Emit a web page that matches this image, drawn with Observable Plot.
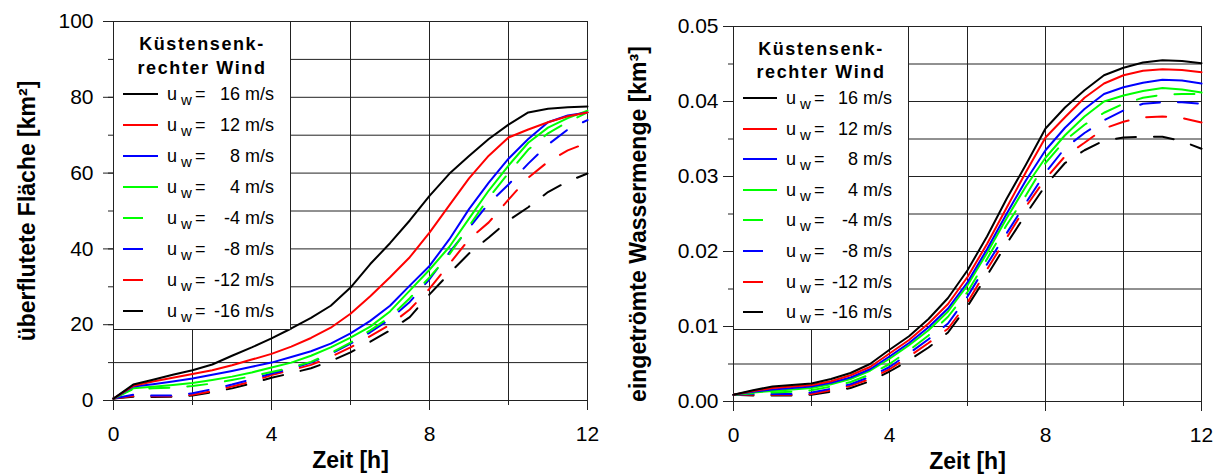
<!DOCTYPE html>
<html>
<head>
<meta charset="utf-8">
<script src="https://cdn.jsdelivr.net/npm/d3@7"></script>
<script src="https://cdn.jsdelivr.net/npm/@observablehq/plot@0.6"></script>
<style>
  body { margin: 0; background: #fff; }
  #wrap { position: relative; width: 1223px; height: 474px; overflow: hidden; background: #fff;
          font-family: "Liberation Sans", Arial, sans-serif; color: #000; }
  .panel { position: absolute; top: 0; }
  .legend { position: absolute; background: #fff; border: 1px solid #222; box-sizing: border-box; }
  .ltitle { position: absolute; left: 0; width: 100%; text-align: center; font-weight: bold;
            font-size: 18px; letter-spacing: 1.6px; line-height: 20px; }
  .lrow { position: absolute; left: 0; width: 100%; height: 22px; font-size: 18px; line-height: 22px; }
  .lrow svg { position: absolute; top: 0; }
  .lrow span { position: absolute; top: 0; white-space: pre; }
  .lrow .sub { font-size: 15px; top: 6px; }
</style>
</head>
<body>
<div id="wrap"></div>
<script>
// ---------- data ----------
const hours = [0, 0.5, 1, 1.5, 2, 2.5, 3, 3.5, 4, 4.5, 5, 5.5, 6, 6.5, 7, 7.5, 8, 8.5, 9, 9.5, 10, 10.5, 11, 11.5, 12];
const winds = [16, 12, 8, 4, -4, -8, -12, -16];
const windLabels = ["16 m/s", "12 m/s", "8 m/s", "4 m/s", "-4 m/s", "-8 m/s", "-12 m/s", "-16 m/s"];
const windColors = ["#000000", "#ff0000", "#0000ff", "#00ff00", "#00ff00", "#0000ff", "#ff0000", "#000000"];
const windDashed = [false, false, false, false, true, true, true, true];

// überflutete Fläche [km²]
const area16  = [0.5, 4.2, 5.5, 6.8, 8.0, 9.5, 11.8, 14.0, 16.4, 19.0, 21.8, 25.0, 29.8, 36.0, 41.5, 47.5, 54.0, 59.8, 64.5, 69.0, 72.8, 76.0, 77.0, 77.4, 77.6];
const area12  = [0.5, 3.9, 5.0, 6.0, 7.0, 8.0, 9.3, 10.8, 12.3, 14.2, 16.5, 19.2, 22.9, 27.5, 32.5, 37.8, 44.3, 51.5, 58.6, 64.6, 69.4, 71.5, 73.4, 75.0, 76.0];
const area8   = [0.5, 3.7, 4.3, 5.0, 5.8, 6.8, 7.8, 8.9, 10.0, 11.5, 13.0, 15.0, 17.7, 21.0, 25.0, 30.3, 35.5, 42.5, 50.5, 57.5, 63.8, 69.0, 73.4, 75.2, 76.0];
const area4   = [0.5, 3.2, 3.6, 4.1, 4.6, 5.4, 6.3, 7.4, 8.7, 10.0, 11.8, 14.0, 16.6, 19.5, 23.5, 29.0, 34.5, 40.5, 48.0, 55.4, 62.0, 68.0, 72.0, 74.5, 76.5];
const areaM4  = [0.5, 3.0, 3.2, 3.4, 3.8, 4.5, 5.4, 6.4, 7.5, 8.7, 10.2, 12.5, 15.3, 18.5, 22.0, 27.0, 32.5, 38.5, 46.0, 53.5, 60.0, 66.2, 70.5, 73.5, 76.0];
const areaM8  = [0.5, 1.5, 1.3, 1.3, 1.9, 3.0, 4.2, 5.6, 7.1, 8.4, 10.0, 12.3, 15.0, 18.0, 21.5, 26.0, 32.0, 39.0, 45.5, 52.0, 57.0, 62.5, 67.5, 71.5, 74.0];
const areaM12 = [0.5, 1.2, 1.1, 1.1, 1.5, 2.5, 3.7, 5.0, 6.7, 8.0, 9.4, 11.5, 14.0, 17.0, 20.0, 24.0, 29.5, 36.0, 42.5, 47.0, 53.0, 58.8, 63.0, 66.0, 68.0];
const areaM16 = [0.5, 1.0, 0.9, 1.0, 1.3, 2.2, 3.2, 4.5, 6.0, 7.2, 8.5, 10.4, 12.7, 15.5, 18.5, 22.0, 28.0, 33.5, 38.8, 43.0, 47.5, 51.0, 55.0, 57.8, 59.9];

// eingeströmte Wassermenge [km³]
const vol16  = [0.0009, 0.0015, 0.0020, 0.0022, 0.0024, 0.0030, 0.0038, 0.0050, 0.0069, 0.0087, 0.0110, 0.0138, 0.0175, 0.0220, 0.0270, 0.0316, 0.0364, 0.0392, 0.0415, 0.0435, 0.0445, 0.0452, 0.0455, 0.0454, 0.0451];
const vol12  = [0.0009, 0.0014, 0.0018, 0.0020, 0.0022, 0.0027, 0.0035, 0.0046, 0.0064, 0.0082, 0.0104, 0.0130, 0.0166, 0.0210, 0.0258, 0.0306, 0.0352, 0.0379, 0.0405, 0.0424, 0.0435, 0.0441, 0.0443, 0.0442, 0.0439];
const vol8   = [0.0009, 0.0013, 0.0016, 0.0018, 0.0020, 0.0025, 0.0032, 0.0043, 0.0060, 0.0078, 0.0099, 0.0124, 0.0159, 0.0203, 0.0250, 0.0295, 0.0335, 0.0365, 0.0390, 0.0410, 0.0419, 0.0425, 0.0429, 0.0428, 0.0424];
const vol4   = [0.0009, 0.0012, 0.0014, 0.0016, 0.0018, 0.0023, 0.0030, 0.0041, 0.0057, 0.0075, 0.0095, 0.0120, 0.0155, 0.0198, 0.0244, 0.0287, 0.0325, 0.0355, 0.0380, 0.0400, 0.0408, 0.0414, 0.0418, 0.0416, 0.0412];
const volM4  = [0.0009, 0.0011, 0.0012, 0.0013, 0.0015, 0.0020, 0.0026, 0.0036, 0.0050, 0.0068, 0.0088, 0.0113, 0.0146, 0.0190, 0.0235, 0.0275, 0.0318, 0.0348, 0.0369, 0.0385, 0.0397, 0.0405, 0.0409, 0.0410, 0.0410];
const volM8  = [0.0009, 0.0010, 0.0010, 0.0010, 0.0012, 0.0017, 0.0023, 0.0033, 0.0046, 0.0064, 0.0083, 0.0104, 0.0140, 0.0183, 0.0224, 0.0265, 0.0305, 0.0338, 0.0358, 0.0375, 0.0388, 0.0397, 0.0399, 0.0399, 0.0397];
const volM12 = [0.0009, 0.0009, 0.0009, 0.0009, 0.0010, 0.0015, 0.0021, 0.0030, 0.0043, 0.0060, 0.0078, 0.0097, 0.0132, 0.0176, 0.0218, 0.0260, 0.0297, 0.0327, 0.0345, 0.0364, 0.0373, 0.0379, 0.0380, 0.0378, 0.0372];
const volM16 = [0.0009, 0.0008, 0.0008, 0.0008, 0.0009, 0.0013, 0.0018, 0.0027, 0.0040, 0.0055, 0.0072, 0.0092, 0.0127, 0.0168, 0.0210, 0.0250, 0.0288, 0.0318, 0.0335, 0.0348, 0.0352, 0.0353, 0.0353, 0.0347, 0.0337];

const xGridTicks  = [0, 2, 4, 6, 8, 10, 12];
const xLabelTicks = [0, 4, 8, 12];
const areaGrid   = [0, 10, 20, 30, 40, 50, 60, 70, 80, 90, 100];
const areaLabels = [0, 20, 40, 60, 80, 100];
const volGrid    = [0, 0.005, 0.01, 0.015, 0.02, 0.025, 0.03, 0.035, 0.04, 0.045, 0.05];
const volLabels  = [0, 0.01, 0.02, 0.03, 0.04, 0.05];

const areaSeries = [area16, area12, area8, area4, areaM4, areaM8, areaM12, areaM16];
const volSeries  = [vol16, vol12, vol8, vol4, volM4, volM8, volM12, volM16];

const FONT = '"Liberation Sans", Arial, sans-serif';
const wrap = document.getElementById("wrap");

function makePanel(o) {
  const marks = [
    Plot.gridX(xGridTicks, {stroke: "#222", strokeOpacity: 1, strokeWidth: 1}),
    Plot.gridY(o.yGrid, {stroke: "#222", strokeOpacity: 1, strokeWidth: 1}),
    Plot.axisX(xGridTicks, {tickSize: 5, tickFormat: () => "", label: null, stroke: "#222"}),
    Plot.axisX(xLabelTicks, {tickSize: 10, tickPadding: 16, label: null, stroke: "#222"}),
    Plot.axisY(o.yGrid, {tickSize: 5, tickFormat: () => "", label: null, stroke: "#222"}),
    Plot.axisY(o.yLabels, {tickSize: 10, tickPadding: o.yPad, tickFormat: o.fmt, label: null, stroke: "#222"})
  ];
  // dashed first, solid on top
  const order = [7, 6, 5, 4, 3, 2, 1, 0];
  for (const i of order) {
    const rows = hours.map((h, j) => ({h, v: o.series[i][j]}));
    marks.push(Plot.line(rows, {
      x: "h", y: "v", stroke: windColors[i], strokeWidth: 2,
      strokeDasharray: windDashed[i] ? "20,18" : null, curve: "linear"
    }));
  }
  marks.push(Plot.text([o.xTitle], {text: d => d, frameAnchor: "bottom", textAnchor: "middle", lineAnchor: "middle", dy: 60,
    fontSize: 23, fontWeight: "bold"}));
  marks.push(Plot.text([o.yTitle], {text: d => d, frameAnchor: "left", textAnchor: "middle", lineAnchor: "middle", rotate: -90,
    dx: o.yTitleDx, dy: o.yTitleDy, fontSize: 23, fontWeight: "bold"}));

  const chart = Plot.plot({
    width: o.width, height: 474,
    marginLeft: o.ml, marginRight: o.mr, marginTop: o.mt, marginBottom: o.mb,
    x: {domain: [0, 12], label: null},
    y: {domain: o.yDomain, label: null},
    style: {fontFamily: FONT, fontSize: "21px", color: "#000", background: "transparent", overflow: "visible"},
    marks
  });
  const div = document.createElement("div");
  div.className = "panel";
  div.style.left = o.left + "px";
  div.appendChild(chart);
  wrap.appendChild(div);
}

function makeLegend(o) {
  const box = document.createElement("div");
  box.className = "legend";
  Object.assign(box.style, {left: o.left + "px", top: o.top + "px", width: o.width + "px", height: o.height + "px"});
  ["Küstensenk-", "rechter Wind"].forEach((t, k) => {
    const d = document.createElement("div");
    d.className = "ltitle";
    d.textContent = t;
    d.style.top = (o.titleTops[k] - 10) + "px";
    box.appendChild(d);
  });
  winds.forEach((w, i) => {
    const row = document.createElement("div");
    row.className = "lrow";
    row.style.top = (o.rowTop + o.rowStep * i - 11) + "px";
    const len = windDashed[i] ? 20 : o.sampleLen;
    const svg = `<svg width="${o.sampleLen + 2}" height="22" style="left:${o.sampleLeft}px">
      <line x1="0" x2="${len}" y1="11" y2="11" stroke="${windColors[i]}" stroke-width="2"/></svg>`;
    row.innerHTML = svg +
      `<span style="left:${o.uLeft}px">u</span>` +
      `<span class="sub" style="left:${o.uLeft + 14}px">w</span>` +
      `<span style="left:${o.uLeft + 28}px">=</span>` +
      `<span style="right:${o.width - o.valueRight}px">${windLabels[i]}</span>`;
    box.appendChild(row);
  });
  wrap.appendChild(box);
}

makePanel({
  left: 0, width: 610, ml: 113, mr: 23, mt: 21, mb: 74,
  series: areaSeries, yDomain: [0, 100], yGrid: areaGrid, yLabels: areaLabels, yPad: 10,
  fmt: d3.format("d"), xTitle: "Zeit [h]", yTitle: "überflutete Fläche [km²]", yTitleDx: -86, yTitleDy: 0
});
makePanel({
  left: 610, width: 613, ml: 123, mr: 22, mt: 26, mb: 73,
  series: volSeries, yDomain: [0, 0.05], yGrid: volGrid, yLabels: volLabels, yPad: 5,
  fmt: d3.format(".2f"), xTitle: "Zeit [h]", yTitle: "eingetrömte Wassermenge [km³]", yTitleDx: -95, yTitleDy: 10
});

makeLegend({left: 113, top: 21, width: 178, height: 309, titleTops: [22, 46], rowTop: 72, rowStep: 31,
  sampleLeft: 9, sampleLen: 35, uLeft: 53, valueRight: 162});
makeLegend({left: 733, top: 26, width: 176, height: 304, titleTops: [22, 45], rowTop: 71, rowStep: 30.6,
  sampleLeft: 9, sampleLen: 34, uLeft: 52, valueRight: 160});
</script>
</body>
</html>
